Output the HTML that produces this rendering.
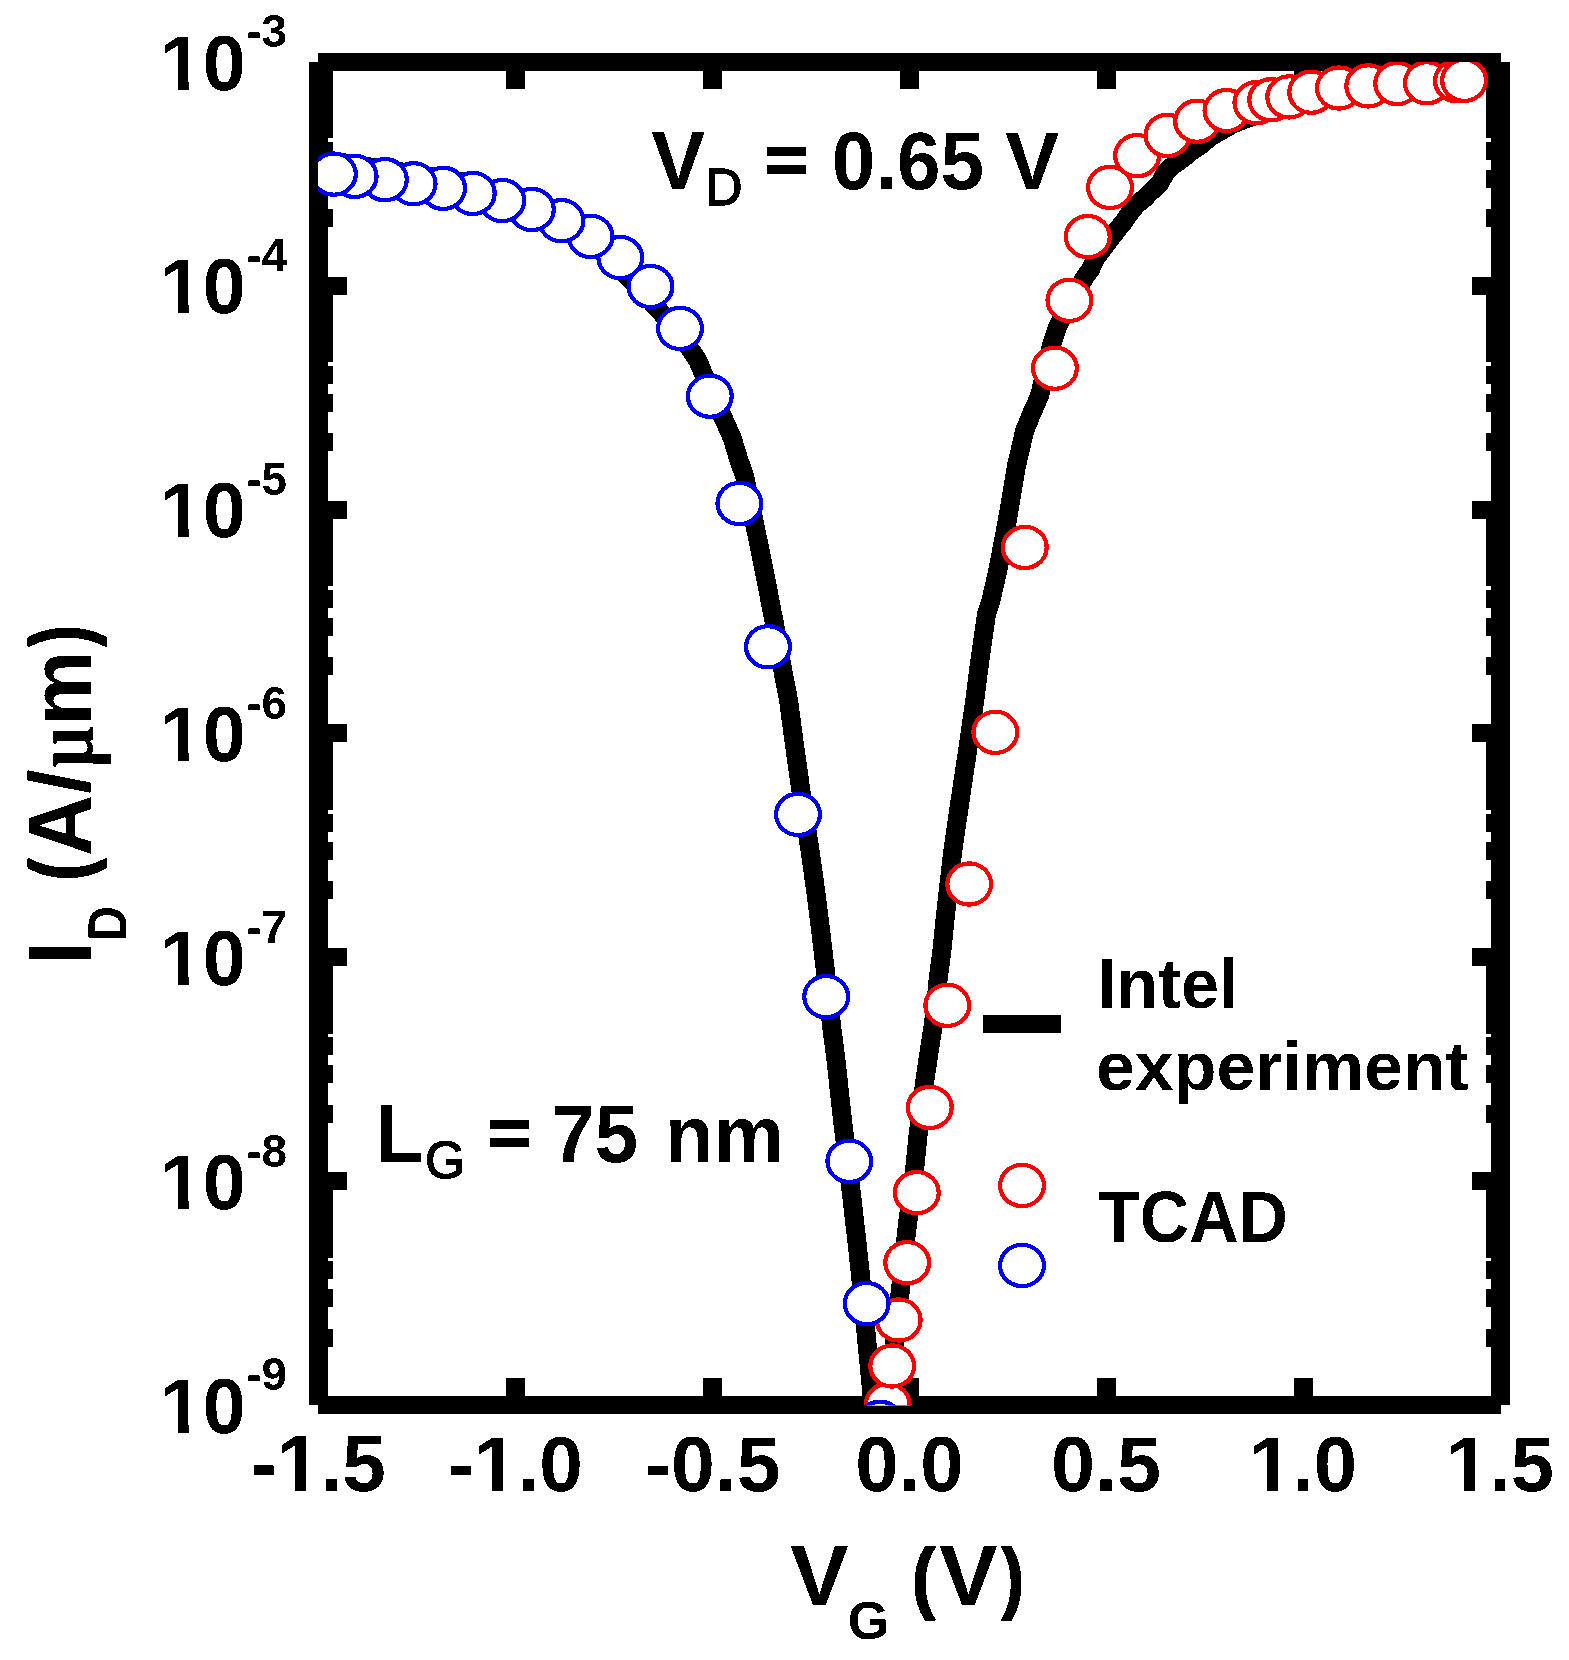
<!DOCTYPE html>
<html lang="en"><head><meta charset="utf-8"><title>ID-VG Intel experiment vs TCAD</title>
<style>html,body{margin:0;padding:0;background:#fff}body{width:1569px;height:1660px;overflow:hidden}svg{display:block}text{font-family:"Liberation Sans",Arial,sans-serif;font-weight:bold;fill:#000}.r{font-weight:normal}</style></head><body>
<svg width="1569" height="1660" viewBox="0 0 1569 1660">
<rect width="1569" height="1660" fill="#fff"/>
<defs><clipPath id="c"><rect x="318" y="62" width="1183" height="1343.5"/></clipPath><clipPath id="k1"><rect x="-60" y="-400" width="2460" height="376"/><rect x="-60" y="5" width="2460" height="155"/><rect x="-60" y="-30" width="64" height="40"/><rect x="46.4" y="-30" width="28.2" height="40"/><rect x="112" y="-30" width="2288" height="40"/></clipPath><clipPath id="k2"><rect x="-60" y="-400" width="2460" height="376"/><rect x="-60" y="5" width="2460" height="155"/><rect x="-60" y="-30" width="130.6" height="40"/><rect x="113" y="-30" width="28.2" height="40"/><rect x="178.6" y="-30" width="2221.4" height="40"/></clipPath><filter id="bin" x="0" y="0" width="1569" height="1660" filterUnits="userSpaceOnUse" color-interpolation-filters="sRGB"><feComponentTransfer><feFuncA type="discrete" tableValues="0 1"/></feComponentTransfer></filter></defs>
<g fill="#000" shape-rendering="crispEdges">
<rect x="309" y="62" width="19" height="1343"/>
<rect x="1491" y="62" width="19" height="1343"/>
<rect x="318" y="53" width="1183" height="18"/>
<rect x="318" y="1396" width="1183" height="18"/>
<rect x="506" y="71" width="19" height="18"/>
<rect x="506" y="1378" width="19" height="18"/>
<rect x="703" y="71" width="19" height="18"/>
<rect x="703" y="1378" width="19" height="18"/>
<rect x="900" y="71" width="19" height="18"/>
<rect x="900" y="1378" width="19" height="18"/>
<rect x="1097" y="71" width="19" height="18"/>
<rect x="1097" y="1378" width="19" height="18"/>
<rect x="1294" y="71" width="19" height="18"/>
<rect x="1294" y="1378" width="19" height="18"/>
<rect x="328" y="277" width="19" height="18"/>
<rect x="1472" y="277" width="19" height="18"/>
<rect x="328" y="209" width="5" height="18"/>
<rect x="1486" y="209" width="5" height="18"/>
<rect x="328" y="170" width="5" height="18"/>
<rect x="1486" y="170" width="5" height="18"/>
<rect x="328" y="142" width="5" height="18"/>
<rect x="1486" y="142" width="5" height="18"/>
<rect x="328" y="120" width="5" height="18"/>
<rect x="1486" y="120" width="5" height="18"/>
<rect x="328" y="103" width="5" height="18"/>
<rect x="1486" y="103" width="5" height="18"/>
<rect x="328" y="88" width="5" height="18"/>
<rect x="1486" y="88" width="5" height="18"/>
<rect x="328" y="75" width="5" height="18"/>
<rect x="1486" y="75" width="5" height="18"/>
<rect x="328" y="63" width="5" height="18"/>
<rect x="1486" y="63" width="5" height="18"/>
<rect x="328" y="501" width="19" height="18"/>
<rect x="1472" y="501" width="19" height="18"/>
<rect x="328" y="433" width="5" height="18"/>
<rect x="1486" y="433" width="5" height="18"/>
<rect x="328" y="394" width="5" height="18"/>
<rect x="1486" y="394" width="5" height="18"/>
<rect x="328" y="366" width="5" height="18"/>
<rect x="1486" y="366" width="5" height="18"/>
<rect x="328" y="344" width="5" height="18"/>
<rect x="1486" y="344" width="5" height="18"/>
<rect x="328" y="326" width="5" height="18"/>
<rect x="1486" y="326" width="5" height="18"/>
<rect x="328" y="312" width="5" height="18"/>
<rect x="1486" y="312" width="5" height="18"/>
<rect x="328" y="299" width="5" height="18"/>
<rect x="1486" y="299" width="5" height="18"/>
<rect x="328" y="287" width="5" height="18"/>
<rect x="1486" y="287" width="5" height="18"/>
<rect x="328" y="724" width="19" height="18"/>
<rect x="1472" y="724" width="19" height="18"/>
<rect x="328" y="657" width="5" height="18"/>
<rect x="1486" y="657" width="5" height="18"/>
<rect x="328" y="618" width="5" height="18"/>
<rect x="1486" y="618" width="5" height="18"/>
<rect x="328" y="590" width="5" height="18"/>
<rect x="1486" y="590" width="5" height="18"/>
<rect x="328" y="568" width="5" height="18"/>
<rect x="1486" y="568" width="5" height="18"/>
<rect x="328" y="550" width="5" height="18"/>
<rect x="1486" y="550" width="5" height="18"/>
<rect x="328" y="535" width="5" height="18"/>
<rect x="1486" y="535" width="5" height="18"/>
<rect x="328" y="522" width="5" height="18"/>
<rect x="1486" y="522" width="5" height="18"/>
<rect x="328" y="511" width="5" height="18"/>
<rect x="1486" y="511" width="5" height="18"/>
<rect x="328" y="948" width="19" height="18"/>
<rect x="1472" y="948" width="19" height="18"/>
<rect x="328" y="881" width="5" height="18"/>
<rect x="1486" y="881" width="5" height="18"/>
<rect x="328" y="842" width="5" height="18"/>
<rect x="1486" y="842" width="5" height="18"/>
<rect x="328" y="814" width="5" height="18"/>
<rect x="1486" y="814" width="5" height="18"/>
<rect x="328" y="792" width="5" height="18"/>
<rect x="1486" y="792" width="5" height="18"/>
<rect x="328" y="774" width="5" height="18"/>
<rect x="1486" y="774" width="5" height="18"/>
<rect x="328" y="759" width="5" height="18"/>
<rect x="1486" y="759" width="5" height="18"/>
<rect x="328" y="746" width="5" height="18"/>
<rect x="1486" y="746" width="5" height="18"/>
<rect x="328" y="735" width="5" height="18"/>
<rect x="1486" y="735" width="5" height="18"/>
<rect x="328" y="1172" width="19" height="18"/>
<rect x="1472" y="1172" width="19" height="18"/>
<rect x="328" y="1105" width="5" height="18"/>
<rect x="1486" y="1105" width="5" height="18"/>
<rect x="328" y="1065" width="5" height="18"/>
<rect x="1486" y="1065" width="5" height="18"/>
<rect x="328" y="1037" width="5" height="18"/>
<rect x="1486" y="1037" width="5" height="18"/>
<rect x="328" y="1016" width="5" height="18"/>
<rect x="1486" y="1016" width="5" height="18"/>
<rect x="328" y="998" width="5" height="18"/>
<rect x="1486" y="998" width="5" height="18"/>
<rect x="328" y="983" width="5" height="18"/>
<rect x="1486" y="983" width="5" height="18"/>
<rect x="328" y="970" width="5" height="18"/>
<rect x="1486" y="970" width="5" height="18"/>
<rect x="328" y="959" width="5" height="18"/>
<rect x="1486" y="959" width="5" height="18"/>
<rect x="328" y="1329" width="5" height="18"/>
<rect x="1486" y="1329" width="5" height="18"/>
<rect x="328" y="1289" width="5" height="18"/>
<rect x="1486" y="1289" width="5" height="18"/>
<rect x="328" y="1261" width="5" height="18"/>
<rect x="1486" y="1261" width="5" height="18"/>
<rect x="328" y="1240" width="5" height="18"/>
<rect x="1486" y="1240" width="5" height="18"/>
<rect x="328" y="1222" width="5" height="18"/>
<rect x="1486" y="1222" width="5" height="18"/>
<rect x="328" y="1207" width="5" height="18"/>
<rect x="1486" y="1207" width="5" height="18"/>
<rect x="328" y="1194" width="5" height="18"/>
<rect x="1486" y="1194" width="5" height="18"/>
<rect x="328" y="1182" width="5" height="18"/>
<rect x="1486" y="1182" width="5" height="18"/>
</g>
<g clip-path="url(#c)" shape-rendering="crispEdges">
<g fill="none" stroke="#000" stroke-width="19" stroke-linejoin="round" stroke-linecap="butt">
<polyline points="310.0,157.5 318.5,158.8 333.0,161.1 400.0,171.7 430.0,176.4 461.0,181.4 502.0,192.5 532.0,203.0 561.0,218.0 588.0,239.0 614.5,263.5 644.0,293.8 677.5,330.6 697.8,360.3 712.6,396.0 723.9,419.3 732.4,438.6 738.2,457.8 744.8,477.1 756.9,534.9 760.8,554.2 764.8,573.5 768.5,592.8 772.1,612.0 774.5,623.6 782.7,669.9 786.5,689.2 788.5,700.0 793.6,738.6 799.0,777.1 800.9,790.6 810.6,854.2 815.9,892.8 820.7,931.3 825.3,969.9 832.1,1030.0 836.0,1060.0 840.3,1100.0 843.1,1125.0 852.2,1200.0 856.7,1240.0 860.0,1270.0 865.5,1327.5 872.0,1394.9 874.5,1420.0"/>
<polyline points="887.0,1420.0 888.0,1405.0 890.5,1375.0 894.5,1342.9 900.3,1291.0 906.0,1237.1 907.8,1221.7 915.2,1163.9 918.1,1134.9 925.3,1077.1 927.9,1060.0 932.5,1030.0 935.4,1008.4 938.1,979.5 941.9,950.6 945.8,912.0 952.4,854.2 955.1,834.9 960.7,796.4 966.5,757.8 974.8,700.0 978.7,669.2 984.1,630.6 986.3,615.2 990.6,601.7 997.3,572.8 1006.9,522.7 1011.5,495.7 1016.3,466.7 1024.8,430.1 1029.2,420.0 1031.3,414.2 1035.7,404.6 1039.8,394.9 1051.6,344.8 1054.2,337.1 1057.3,327.5 1069.0,303.0 1084.8,277.3 1090.4,269.6 1094.9,260.0 1096.8,256.8 1106.2,244.2 1116.7,230.5 1123.1,222.7 1129.5,213.5 1136.5,204.5 1144.0,198.7 1151.0,191.5 1159.4,184.0 1165.8,172.3 1173.5,165.0 1182.6,158.6 1192.1,150.7 1201.3,144.6 1210.7,136.7 1222.1,130.2 1233.5,123.7 1248.2,118.0 1263.8,113.3 1289.0,103.5 1311.0,98.0 1339.0,93.0 1368.0,89.0 1397.0,86.0 1427.0,84.0 1460.0,81.5"/>
</g>
<g fill="#fff" stroke="#f00" stroke-width="4.2">
<ellipse cx="887.7" cy="1404.5" rx="21.9" ry="20.6"/>
<ellipse cx="892.2" cy="1366.0" rx="21.9" ry="20.6"/>
<ellipse cx="898.7" cy="1320.0" rx="21.9" ry="20.6"/>
<ellipse cx="907.2" cy="1262.7" rx="21.9" ry="20.6"/>
<ellipse cx="916.8" cy="1192.6" rx="21.9" ry="20.6"/>
<ellipse cx="929.8" cy="1107.4" rx="21.9" ry="20.6"/>
<ellipse cx="947.3" cy="1005.3" rx="21.9" ry="20.6"/>
<ellipse cx="969.2" cy="884.0" rx="21.9" ry="20.6"/>
<ellipse cx="995.3" cy="732.3" rx="21.9" ry="20.6"/>
<ellipse cx="1024.8" cy="547.4" rx="21.9" ry="20.6"/>
<ellipse cx="1054.9" cy="368.2" rx="21.9" ry="20.6"/>
<ellipse cx="1069.4" cy="300.3" rx="21.9" ry="20.6"/>
<ellipse cx="1087.8" cy="236.6" rx="21.9" ry="20.6"/>
<ellipse cx="1110.0" cy="187.4" rx="21.9" ry="20.6"/>
<ellipse cx="1137.1" cy="155.7" rx="21.9" ry="20.6"/>
<ellipse cx="1167.4" cy="135.4" rx="21.9" ry="20.6"/>
<ellipse cx="1197.1" cy="121.2" rx="21.9" ry="20.6"/>
<ellipse cx="1226.5" cy="110.5" rx="21.9" ry="20.6"/>
<ellipse cx="1256.4" cy="102.7" rx="21.9" ry="20.6"/>
<ellipse cx="1271.2" cy="99.8" rx="21.9" ry="20.6"/>
<ellipse cx="1289.2" cy="96.9" rx="21.9" ry="20.6"/>
<ellipse cx="1311.2" cy="92.2" rx="21.9" ry="20.6"/>
<ellipse cx="1338.9" cy="88.0" rx="21.9" ry="20.6"/>
<ellipse cx="1368.2" cy="85.9" rx="21.9" ry="20.6"/>
<ellipse cx="1397.2" cy="83.5" rx="21.9" ry="20.6"/>
<ellipse cx="1426.9" cy="82.8" rx="21.9" ry="20.6"/>
<ellipse cx="1457.0" cy="80.8" rx="21.9" ry="20.6"/>
<ellipse cx="1464.1" cy="80.3" rx="21.9" ry="20.6"/>
</g>
<g fill="#fff" stroke="#00f" stroke-width="4.2">
<ellipse cx="880.0" cy="1422.3" rx="21.9" ry="20.6"/>
<ellipse cx="866.7" cy="1303.6" rx="21.9" ry="20.6"/>
<ellipse cx="849.3" cy="1161.3" rx="21.9" ry="20.6"/>
<ellipse cx="826.2" cy="996.7" rx="21.9" ry="20.6"/>
<ellipse cx="798.0" cy="814.4" rx="21.9" ry="20.6"/>
<ellipse cx="768.0" cy="646.8" rx="21.9" ry="20.6"/>
<ellipse cx="739.4" cy="503.5" rx="21.9" ry="20.6"/>
<ellipse cx="709.8" cy="396.2" rx="21.9" ry="20.6"/>
<ellipse cx="680.0" cy="328.4" rx="21.9" ry="20.6"/>
<ellipse cx="650.5" cy="286.5" rx="21.9" ry="20.6"/>
<ellipse cx="620.3" cy="257.6" rx="21.9" ry="20.6"/>
<ellipse cx="590.6" cy="236.4" rx="21.9" ry="20.6"/>
<ellipse cx="561.5" cy="220.7" rx="21.9" ry="20.6"/>
<ellipse cx="531.9" cy="209.5" rx="21.9" ry="20.6"/>
<ellipse cx="502.3" cy="200.6" rx="21.9" ry="20.6"/>
<ellipse cx="472.8" cy="193.4" rx="21.9" ry="20.6"/>
<ellipse cx="443.1" cy="188.3" rx="21.9" ry="20.6"/>
<ellipse cx="413.6" cy="183.8" rx="21.9" ry="20.6"/>
<ellipse cx="384.9" cy="179.7" rx="21.9" ry="20.6"/>
<ellipse cx="354.7" cy="176.4" rx="21.9" ry="20.6"/>
<ellipse cx="333.9" cy="174.1" rx="21.9" ry="20.6"/>
</g>
</g>
<rect x="983" y="1015" width="78" height="18" fill="#000" shape-rendering="crispEdges"/>
<ellipse cx="1022" cy="1185.5" rx="21.9" ry="20.6" fill="#fff" stroke="#f00" stroke-width="4.2" shape-rendering="crispEdges"/>
<ellipse cx="1022" cy="1265.5" rx="21.9" ry="20.6" fill="#fff" stroke="#00f" stroke-width="4.2" shape-rendering="crispEdges"/>
<g filter="url(#bin)">
<text transform="translate(250.66,1491.01) scale(0.3924,0.3936)" font-size="200" clip-path="url(#k2)">-1.5</text>
<text transform="translate(447.76,1491.02) scale(0.3921,0.3880)" font-size="200" clip-path="url(#k2)">-1.0</text>
<text transform="translate(644.85,1491.02) scale(0.3940,0.3880)" font-size="200">-0.5</text>
<text transform="translate(855.29,1491.02) scale(0.3889,0.3880)" font-size="200">0.0</text>
<text transform="translate(1051.03,1491.02) scale(0.3958,0.3880)" font-size="200">0.5</text>
<text transform="translate(1248.94,1491.02) scale(0.3891,0.3880)" font-size="200" clip-path="url(#k1)">1.0</text>
<text transform="translate(1445.95,1491.01) scale(0.3888,0.3936)" font-size="200" clip-path="url(#k1)">1.5</text>
<text transform="translate(159.79,89.62) scale(0.3856,0.3915)" font-size="200" clip-path="url(#k1)">10<tspan x="224.5" y="-107.9" font-size="119.0">-3</tspan></text>
<text transform="translate(159.79,313.45) scale(0.3856,0.3915)" font-size="200" clip-path="url(#k1)">10<tspan x="224.5" y="-107.9" font-size="119.0">-4</tspan></text>
<text transform="translate(159.79,537.28) scale(0.3856,0.3915)" font-size="200" clip-path="url(#k1)">10<tspan x="224.5" y="-107.9" font-size="119.0">-5</tspan></text>
<text transform="translate(159.79,761.12) scale(0.3856,0.3915)" font-size="200" clip-path="url(#k1)">10<tspan x="224.5" y="-107.9" font-size="119.0">-6</tspan></text>
<text transform="translate(159.79,984.95) scale(0.3856,0.3915)" font-size="200" clip-path="url(#k1)">10<tspan x="224.5" y="-107.9" font-size="119.0">-7</tspan></text>
<text transform="translate(159.79,1208.78) scale(0.3856,0.3915)" font-size="200" clip-path="url(#k1)">10<tspan x="224.5" y="-107.9" font-size="119.0">-8</tspan></text>
<text transform="translate(159.79,1432.62) scale(0.3856,0.3915)" font-size="200" clip-path="url(#k1)">10<tspan x="224.5" y="-107.9" font-size="119.0">-9</tspan></text>
<text transform="translate(651.90,189.00) scale(0.4022,0.4122)" font-size="200"><tspan x="-2.0" y="0.0" font-size="200.8" textLength="135.2" lengthAdjust="spacingAndGlyphs">V</tspan><tspan x="133.6" y="38.9" font-size="123.8" textLength="92.0" lengthAdjust="spacingAndGlyphs" class="r" stroke="#000" stroke-width="3.68" stroke-linejoin="round">D</tspan> <tspan x="280.5" y="-14.7" font-size="162.8" textLength="108.4" lengthAdjust="spacingAndGlyphs" stroke="#000" stroke-width="3.93" stroke-linejoin="round">=</tspan> <tspan x="447.2" y="0.2" font-size="199.2" textLength="378.7" lengthAdjust="spacingAndGlyphs">0.65</tspan> <tspan x="878.0" y="-0.5" font-size="200.0" textLength="135.2" lengthAdjust="spacingAndGlyphs">V</tspan></text>
<text transform="translate(380.90,1161.90) scale(0.3927,0.4052)" font-size="200"><tspan x="-13.0" y="-0.0" font-size="204.6" textLength="121.7" lengthAdjust="spacingAndGlyphs">L</tspan><tspan x="112.2" y="40.8" font-size="130.0" textLength="102.8" lengthAdjust="spacingAndGlyphs" class="r" stroke="#000" stroke-width="3.76" stroke-linejoin="round">G</tspan> <tspan x="272.0" y="-14.4" font-size="166.3" textLength="110.7" lengthAdjust="spacingAndGlyphs" stroke="#000" stroke-width="4.01" stroke-linejoin="round">=</tspan> <tspan x="434.2" y="0.5" font-size="200.3" textLength="221.2" lengthAdjust="spacingAndGlyphs">75</tspan> <tspan x="723.4" y="-0.5" font-size="195.2" textLength="302.8" lengthAdjust="spacingAndGlyphs">nm</tspan></text>
<text transform="translate(1101.80,1009.10) scale(0.3457,0.3457)" font-size="200"><tspan x="-12.9" y="-2.0" font-size="202.3" textLength="406.7" lengthAdjust="spacingAndGlyphs">Intel</tspan> <tspan x="-16.8" y="233.0" font-size="197.7" textLength="1078.6" lengthAdjust="spacingAndGlyphs">experiment</tspan></text>
<text transform="translate(1098.02,1241.67) scale(0.3418,0.3648)" font-size="200">TCAD</text>
<text transform="translate(790.80,1604.90) scale(0.4396,0.4225)" font-size="200"><tspan x="-2.0" y="0.0" font-size="200.0">V</tspan><tspan x="129.6" y="80.4" font-size="126.0" textLength="93.6" lengthAdjust="spacingAndGlyphs">G</tspan> <tspan x="275.8" y="-3.1" font-size="182.8" textLength="52.2" lengthAdjust="spacingAndGlyphs" stroke="#000" stroke-width="4.64" stroke-linejoin="round">(</tspan><tspan x="337.2" y="0.0" font-size="200.0">V</tspan><tspan x="480.1" y="-3.1" font-size="182.8" textLength="50.6" lengthAdjust="spacingAndGlyphs" stroke="#000" stroke-width="4.64" stroke-linejoin="round">)</tspan></text>
<text transform="translate(91.00,959.20) rotate(-90) scale(0.4228,0.4513)" font-size="200"><tspan x="-13.0" y="-0.0" font-size="203.0" textLength="55.8" lengthAdjust="spacingAndGlyphs">I</tspan><tspan x="43.2" y="77.6" font-size="121.7" textLength="82.8" lengthAdjust="spacingAndGlyphs">D</tspan> <tspan x="186.1" y="-3.1" font-size="185.8" textLength="52.0" lengthAdjust="spacingAndGlyphs" stroke="#000" stroke-width="4.58" stroke-linejoin="round">(</tspan><tspan x="244.5" y="-0.0" font-size="203.0" textLength="144.8" lengthAdjust="spacingAndGlyphs">A</tspan><tspan x="391.7" y="-3.8" font-size="188.0" textLength="57.6" lengthAdjust="spacingAndGlyphs">/</tspan><tspan x="452.2" y="3.9" font-size="192.5" textLength="99.5" lengthAdjust="spacingAndGlyphs" style="font-family:'Liberation Serif',serif">µ</tspan><tspan x="553.1" y="0.0" font-size="194.1" textLength="176.8" lengthAdjust="spacingAndGlyphs">m</tspan><tspan x="740.0" y="-3.8" font-size="184.8" textLength="50.4" lengthAdjust="spacingAndGlyphs" stroke="#000" stroke-width="4.58" stroke-linejoin="round">)</tspan></text>
</g>
</svg></body></html>
